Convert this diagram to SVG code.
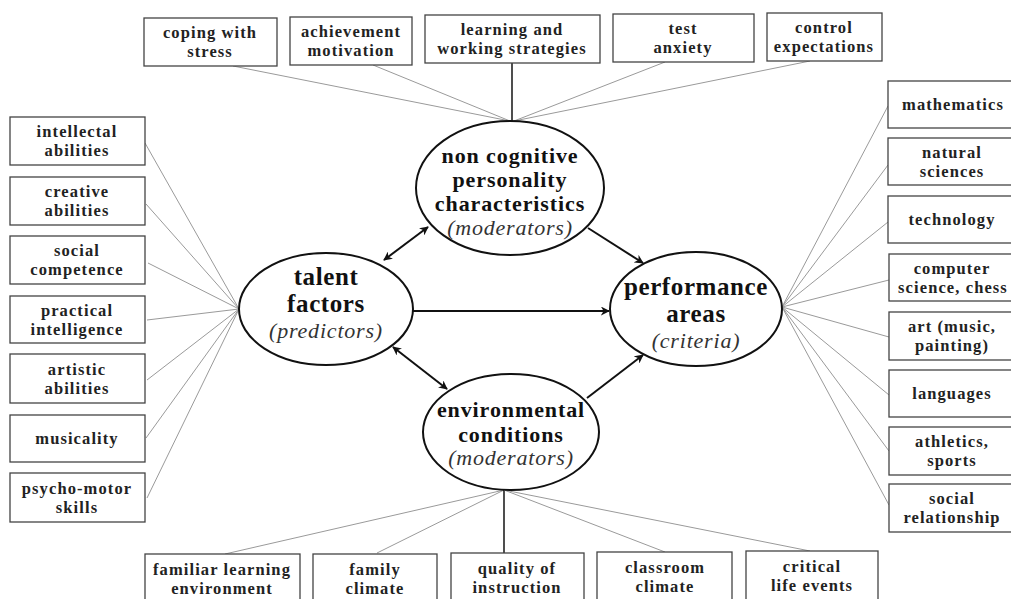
<svg xmlns="http://www.w3.org/2000/svg" width="1011" height="599" viewBox="0 0 1011 599">
<defs>
<marker id="ah" viewBox="0 0 10 10" refX="9" refY="5" markerWidth="9" markerHeight="9" markerUnits="userSpaceOnUse" orient="auto-start-reverse">
<path d="M0,0 L10,5 L0,10 L3,5 Z" fill="#111"/>
</marker>
<style>
.box{fill:#fff;stroke:#444;stroke-width:1.3}
.ell{fill:#fff;stroke:#111;stroke-width:2}
.t{font-family:"Liberation Serif","Times New Roman",serif;font-weight:bold;font-size:16.5px;letter-spacing:1.1px;fill:#222;text-anchor:middle}
.et{font-family:"Liberation Serif","Times New Roman",serif;font-weight:bold;font-size:22px;letter-spacing:0.9px;fill:#111;text-anchor:middle}
.big{font-size:25px;letter-spacing:0.6px}
.it{font-family:"Liberation Serif","Times New Roman",serif;font-style:italic;font-size:22px;letter-spacing:0.8px;fill:#333;text-anchor:middle}
.thin{stroke:#9a9a9a;stroke-width:1;fill:none}
.solid{stroke:#222;stroke-width:1.6;fill:none}
.arr{stroke:#111;stroke-width:2;fill:none;marker-end:url(#ah)}
.darr{stroke:#111;stroke-width:2;fill:none;marker-end:url(#ah);marker-start:url(#ah)}
</style>
</defs>
<rect width="1011" height="599" fill="#fff"/>

<g id="connectors">
<line class="thin" x1="233" y1="66" x2="510" y2="121"/>
<line class="thin" x1="373" y1="65" x2="510" y2="121"/>
<line class="solid" x1="512" y1="63" x2="512" y2="121"/>
<line class="thin" x1="665" y1="62" x2="514" y2="121"/>
<line class="thin" x1="810" y1="61" x2="514" y2="121"/>

<line class="thin" x1="145" y1="143" x2="239" y2="309"/>
<line class="thin" x1="146" y1="204" x2="239" y2="309"/>
<line class="thin" x1="148" y1="263" x2="239" y2="309"/>
<line class="thin" x1="147" y1="320" x2="239" y2="309"/>
<line class="thin" x1="147" y1="380" x2="239" y2="309"/>
<line class="thin" x1="146" y1="438" x2="239" y2="309"/>
<line class="thin" x1="147" y1="498" x2="239" y2="309"/>

<line class="thin" x1="888" y1="106" x2="782" y2="307"/>
<line class="thin" x1="888" y1="165" x2="782" y2="307"/>
<line class="thin" x1="888" y1="222" x2="782" y2="307"/>
<line class="thin" x1="889" y1="280" x2="782" y2="307"/>
<line class="thin" x1="889" y1="337" x2="782" y2="307"/>
<line class="thin" x1="889" y1="395" x2="782" y2="307"/>
<line class="thin" x1="889" y1="451" x2="782" y2="307"/>
<line class="thin" x1="889" y1="505" x2="782" y2="307"/>

<line class="thin" x1="225" y1="554" x2="504" y2="490"/>
<line class="thin" x1="377" y1="553" x2="504" y2="490"/>
<line class="solid" x1="504" y1="490" x2="504" y2="553"/>
<line class="thin" x1="665" y1="552" x2="504" y2="490"/>
<line class="thin" x1="810" y1="551" x2="504" y2="490"/>

<line class="darr" x1="384" y1="260" x2="428" y2="227"/>
<line class="arr" x1="588" y1="228" x2="643" y2="263"/>
<line class="arr" x1="413" y1="311" x2="609" y2="311"/>
<line class="darr" x1="393" y1="347" x2="447" y2="389"/>
<line class="arr" x1="587" y1="398" x2="643" y2="355"/>
</g>

<g id="n-coping"><rect class="box" x="144" y="18" width="133" height="48"/><text class="t" x="210" y="38">coping with</text><text class="t" x="210" y="57">stress</text></g>
<g id="n-achievement"><rect class="box" x="290" y="17" width="122" height="48"/><text class="t" x="351" y="37">achievement</text><text class="t" x="351" y="56">motivation</text></g>
<g id="n-learning"><rect class="box" x="425" y="15" width="175" height="48"/><text class="t" x="512" y="35">learning and</text><text class="t" x="512" y="54">working strategies</text></g>
<g id="n-test"><rect class="box" x="613" y="14" width="141" height="48"/><text class="t" x="683" y="34">test</text><text class="t" x="683" y="53">anxiety</text></g>
<g id="n-control"><rect class="box" x="767" y="13" width="115" height="48"/><text class="t" x="824" y="33">control</text><text class="t" x="824" y="52">expectations</text></g>

<g id="n-intellectal"><rect class="box" x="10" y="117" width="135" height="48"/><text class="t" x="77" y="137">intellectal</text><text class="t" x="77" y="156">abilities</text></g>
<g id="n-creative"><rect class="box" x="10" y="177" width="135" height="48"/><text class="t" x="77" y="197">creative</text><text class="t" x="77" y="216">abilities</text></g>
<g id="n-social"><rect class="box" x="10" y="236" width="135" height="48"/><text class="t" x="77" y="256">social</text><text class="t" x="77" y="275">competence</text></g>
<g id="n-practical"><rect class="box" x="10" y="296" width="135" height="47"/><text class="t" x="77" y="316">practical</text><text class="t" x="77" y="335">intelligence</text></g>
<g id="n-artistic"><rect class="box" x="10" y="354" width="135" height="49"/><text class="t" x="77" y="375">artistic</text><text class="t" x="77" y="394">abilities</text></g>
<g id="n-musicality"><rect class="box" x="10" y="415" width="135" height="47"/><text class="t" x="77" y="444">musicality</text></g>
<g id="n-psycho"><rect class="box" x="10" y="473" width="135" height="49"/><text class="t" x="77" y="494">psycho-motor</text><text class="t" x="77" y="513">skills</text></g>

<g id="n-math"><rect class="box" x="888" y="81" width="130" height="47"/><text class="t" x="953" y="110">mathematics</text></g>
<g id="n-natural"><rect class="box" x="888" y="138" width="130" height="47"/><text class="t" x="952" y="158">natural</text><text class="t" x="952" y="177">sciences</text></g>
<g id="n-technology"><rect class="box" x="888" y="196" width="130" height="47"/><text class="t" x="952" y="225">technology</text></g>
<g id="n-computer"><rect class="box" x="889" y="254" width="130" height="47"/><text class="t" x="952" y="274">computer</text><text class="t" x="953" y="293">science, chess</text></g>
<g id="n-art"><rect class="box" x="889" y="312" width="130" height="48"/><text class="t" x="952" y="332">art (music,</text><text class="t" x="952" y="351">painting)</text></g>
<g id="n-languages"><rect class="box" x="889" y="370" width="130" height="47"/><text class="t" x="952" y="399">languages</text></g>
<g id="n-athletics"><rect class="box" x="889" y="427" width="130" height="48"/><text class="t" x="952" y="447">athletics,</text><text class="t" x="952" y="466">sports</text></g>
<g id="n-socialrel"><rect class="box" x="889" y="484" width="130" height="48"/><text class="t" x="952" y="504">social</text><text class="t" x="952" y="523">relationship</text></g>

<g id="n-familiar"><rect class="box" x="145" y="554" width="155" height="50"/><text class="t" x="222" y="575">familiar learning</text><text class="t" x="222" y="594">environment</text></g>
<g id="n-family"><rect class="box" x="313" y="554" width="124" height="50"/><text class="t" x="375" y="575">family</text><text class="t" x="375" y="594">climate</text></g>
<g id="n-quality"><rect class="box" x="451" y="553" width="133" height="50"/><text class="t" x="517" y="574">quality of</text><text class="t" x="517" y="593">instruction</text></g>
<g id="n-classroom"><rect class="box" x="597" y="552" width="135" height="50"/><text class="t" x="665" y="573">classroom</text><text class="t" x="665" y="592">climate</text></g>
<g id="n-critical"><rect class="box" x="746" y="551" width="132" height="50"/><text class="t" x="812" y="572">critical</text><text class="t" x="812" y="591">life events</text></g>

<g id="n-noncog"><ellipse class="ell" cx="510" cy="188" rx="94" ry="67"/><text class="et" x="510" y="163">non cognitive</text><text class="et" x="510" y="187">personality</text><text class="et" x="510" y="211">characteristics</text><text class="it" x="510" y="235">(moderators)</text></g>
<g id="n-talent"><ellipse class="ell" cx="326" cy="309" rx="87" ry="56"/><text class="et big" x="326" y="285">talent</text><text class="et big" x="326" y="312">factors</text><text class="it" x="326" y="338">(predictors)</text></g>
<g id="n-performance"><ellipse class="ell" cx="696" cy="309" rx="86" ry="57"/><text class="et big" x="696" y="295">performance</text><text class="et big" x="696" y="322">areas</text><text class="it" x="696" y="348">(criteria)</text></g>
<g id="n-environmental"><ellipse class="ell" cx="511" cy="432" rx="88" ry="58"/><text class="et" x="511" y="417">environmental</text><text class="et" x="511" y="442">conditions</text><text class="it" x="511" y="465">(moderators)</text></g>
</svg>
